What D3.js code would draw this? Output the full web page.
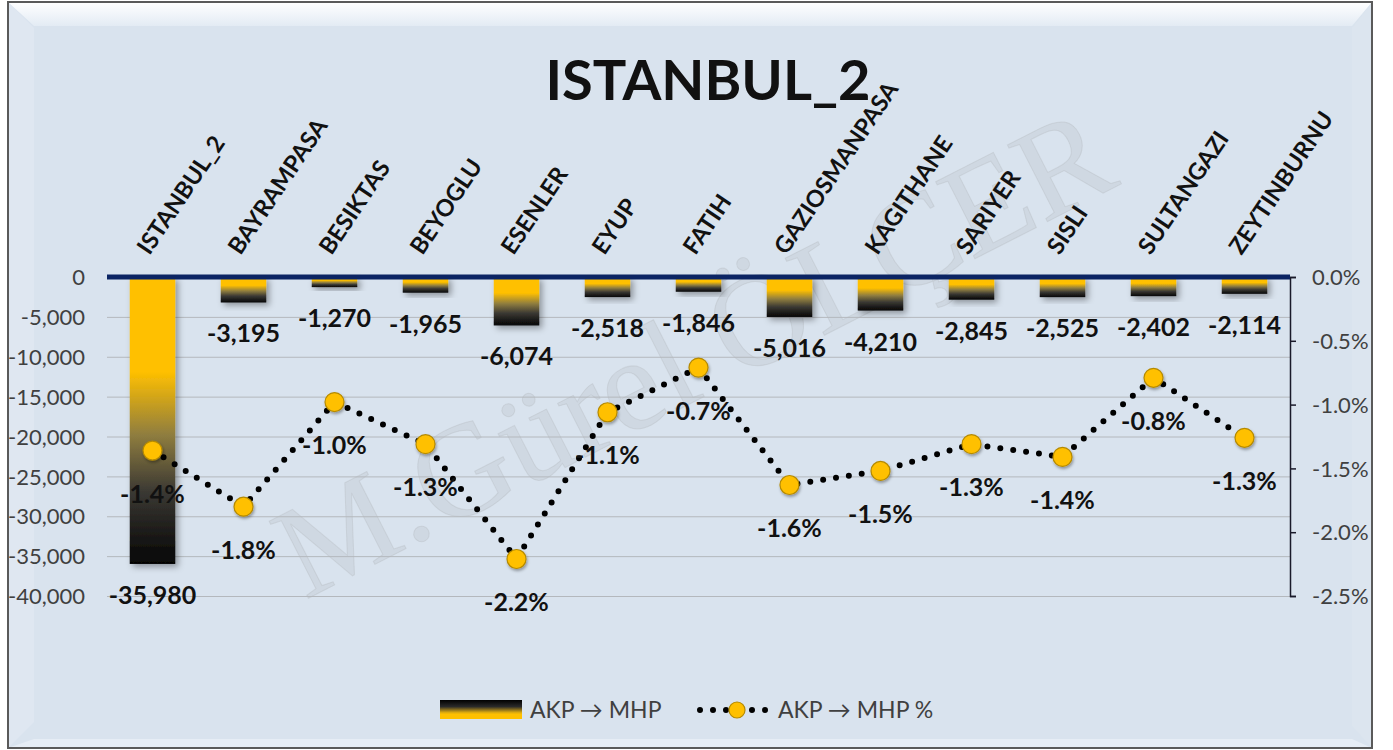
<!DOCTYPE html>
<html lang="tr">
<head>
<meta charset="UTF-8">
<title>ISTANBUL_2</title>
<script src="https://d3js.org/d3.v7.min.js"></script>
<style>
  body { margin: 0; padding: 0; background: #ffffff; }
  svg { display: block; font-family: Lato, "Open Sans", sans-serif; }
</style>
</head>
<body>
<svg id="chart" width="1393" height="750"></svg>
<script>
// chart data
const categories = ["ISTANBUL_2", "BAYRAMPASA", "BESIKTAS", "BEYOGLU", "ESENLER", "EYUP", "FATIH",
  "GAZIOSMANPASA", "KAGITHANE", "SARIYER", "SISLI", "SULTANGAZI", "ZEYTINBURNU"];
const votes = [-35980, -3195, -1270, -1965, -6074, -2518, -1846, -5016, -4210, -2845, -2525, -2402, -2114];
const pctValues = [-1.36, -1.80, -0.98, -1.31, -2.21, -1.06, -0.71, -1.63, -1.52, -1.31, -1.41, -0.79, -1.26];
const leftTicks = [0, -5000, -10000, -15000, -20000, -25000, -30000, -35000, -40000];
const rightTicks = [0, -0.5, -1.0, -1.5, -2.0, -2.5];
const seriesNames = ["AKP \u2192 MHP", "AKP \u2192 MHP %"];

const svg = d3.select("#chart");
const plot = { left: 107, right: 1290, top: 277, bottom: 596 };

const defs = svg.append("defs");

// bar gradient: yellow at the top, black at the bottom
const barGrad = defs.append("linearGradient").attr("id", "barGrad")
  .attr("x1", 0).attr("y1", 0).attr("x2", 0).attr("y2", 1);
[[0, "#ffc000"], [0.33, "#ffc000"], [0.55, "#8f7d3f"], [0.75, "#3a3833"], [1, "#050505"]]
  .forEach(s => barGrad.append("stop").attr("offset", s[0]).attr("stop-color", s[1]));

// legend swatch is the other way round
const legGrad = defs.append("linearGradient").attr("id", "legGrad")
  .attr("x1", 0).attr("y1", 0).attr("x2", 0).attr("y2", 1);
[[0, "#000000"], [0.35, "#2a2a2a"], [0.65, "#d9a810"], [0.75, "#ffc000"], [1, "#ffc000"]]
  .forEach(s => legGrad.append("stop").attr("offset", s[0]).attr("stop-color", s[1]));

const topBevel = defs.append("linearGradient").attr("id", "topBevel")
  .attr("x1", 0).attr("y1", 0).attr("x2", 0).attr("y2", 1);
topBevel.append("stop").attr("offset", 0).attr("stop-color", "#ffffff");
topBevel.append("stop").attr("offset", 1).attr("stop-color", "#e3ebf4");

const shadow = defs.append("filter").attr("id", "shadow")
  .attr("x", "-30%").attr("y", "-30%").attr("width", "160%").attr("height", "160%");
shadow.append("feDropShadow").attr("dx", 3).attr("dy", 3).attr("stdDeviation", 3)
  .attr("flood-color", "#000").attr("flood-opacity", 0.35);

const dotShadow = defs.append("filter").attr("id", "dotShadow")
  .attr("x", "-50%").attr("y", "-50%").attr("width", "200%").attr("height", "200%");
dotShadow.append("feDropShadow").attr("dx", 1).attr("dy", 2).attr("stdDeviation", 1.5)
  .attr("flood-color", "#000").attr("flood-opacity", 0.35);

// chart frame with a soft bevel
svg.append("rect").attr("x", 8).attr("y", 2).attr("width", 1364).attr("height", 746)
  .attr("fill", "#d9e3ee");
svg.append("path").attr("d", "M8,2 L34,28 L34,722 L8,748 Z").attr("fill", "#dfe7f1");
svg.append("path").attr("d", "M1372,2 L1352,28 L1352,726 L1372,748 Z").attr("fill", "#dce5ef");
svg.append("path").attr("d", "M8,748 L34,739 L1352,739 L1372,748 Z").attr("fill", "#e6edf5");
svg.append("path").attr("d", "M8,2 L1372,2 L1352,26 L34,26 Z").attr("fill", "url(#topBevel)");
svg.append("rect").attr("x", 8).attr("y", 2).attr("width", 1364).attr("height", 746)
  .attr("fill", "none").attr("stroke", "#5a5a5a").attr("stroke-width", 2);

// watermark
svg.append("text")
  .attr("transform", "translate(305,600) rotate(-27)")
  .attr("font-family", "'Liberation Serif', 'DejaVu Serif', serif")
  .attr("font-size", 132)
  .attr("fill", "#8c8c8c").attr("fill-opacity", 0.12)
  .attr("stroke", "#8c8c8c").attr("stroke-opacity", 0.16).attr("stroke-width", 1)
  .text("M.Gürel ÖLÇER");

// scales
const x = d3.scaleBand().domain(categories).range([plot.left, plot.right])
  .paddingInner(0.5).paddingOuter(0.25);
const yL = d3.scaleLinear().domain([0, -40000]).range([plot.top, plot.bottom]);
const yR = d3.scaleLinear().domain([0, -2.5]).range([plot.top, plot.bottom]);
const cx = c => x(c) + x.bandwidth() / 2;

const fmtNum = v => v === 0 ? "0" : (v < 0 ? "-" : "") + d3.format(",")(Math.abs(v));
const fmtPct = v => (Math.round(v * 10) / 10).toFixed(1) + "%";

// gridlines
svg.append("g").attr("transform", `translate(${plot.left},0)`)
  .call(d3.axisLeft(yL).tickValues(leftTicks.slice(1)).tickSize(-(plot.right - plot.left)).tickFormat(""))
  .call(g => g.select(".domain").remove())
  .call(g => g.selectAll("line").attr("stroke", "#b4b8bd").attr("stroke-width", 1));

// left axis labels
svg.append("g").attr("transform", `translate(${plot.left},0)`)
  .call(d3.axisLeft(yL).tickValues(leftTicks).tickSize(0).tickPadding(22).tickFormat(fmtNum))
  .call(g => g.select(".domain").remove())
  .call(g => g.selectAll("text").attr("font-family", "Lato, sans-serif")
    .attr("font-size", 22).attr("fill", "#404040").attr("dy", "0.35em"));

// right axis
svg.append("g").attr("transform", `translate(${plot.right},0)`)
  .call(d3.axisRight(yR).tickValues(rightTicks).tickSize(6).tickPadding(16).tickFormat(fmtPct))
  .call(g => g.select(".domain").attr("stroke", "#1a1a2a").attr("stroke-width", 1.5))
  .call(g => g.selectAll("line").attr("stroke", "#1a1a2a").attr("stroke-width", 1.5))
  .call(g => g.selectAll("text").attr("font-family", "Lato, sans-serif")
    .attr("font-size", 22).attr("fill", "#404040").attr("dy", "0.35em"));

// bars
svg.append("g").selectAll("rect").data(categories).join("rect")
  .attr("x", d => x(d))
  .attr("y", yL(0))
  .attr("width", x.bandwidth())
  .attr("height", (d, i) => yL(votes[i]) - yL(0))
  .attr("fill", "url(#barGrad)")
  .attr("filter", "url(#shadow)");

// zero line
svg.append("line")
  .attr("x1", plot.left).attr("x2", plot.right)
  .attr("y1", yL(0)).attr("y2", yL(0))
  .attr("stroke", "#0b2463").attr("stroke-width", 5);

// bar value labels
svg.append("g").selectAll("text").data(categories).join("text")
  .attr("x", d => cx(d))
  .attr("y", (d, i) => yL(votes[i]) + 40)
  .attr("text-anchor", "middle")
  .attr("font-size", 25).attr("font-weight", 700).attr("fill", "#111")
  .text((d, i) => fmtNum(votes[i]));

// dotted percentage line
const line = d3.line().x((d, i) => cx(categories[i])).y(d => yR(d));
svg.append("path").datum(pctValues)
  .attr("d", line)
  .attr("fill", "none")
  .attr("stroke", "#000")
  .attr("stroke-width", 6)
  .attr("stroke-linecap", "round")
  .attr("stroke-dasharray", "0 13");

svg.append("g").selectAll("circle").data(pctValues).join("circle")
  .attr("cx", (d, i) => cx(categories[i]))
  .attr("cy", d => yR(d))
  .attr("r", 9.5)
  .attr("fill", "#ffc000")
  .attr("stroke", "#b58a00").attr("stroke-width", 1.2)
  .attr("filter", "url(#dotShadow)");

// percentage labels
svg.append("g").selectAll("text").data(pctValues).join("text")
  .attr("x", (d, i) => cx(categories[i]))
  .attr("y", d => yR(d) + 52)
  .attr("text-anchor", "middle")
  .attr("font-size", 25).attr("font-weight", 700).attr("fill", "#111")
  .text(d => fmtPct(d));

// category labels
svg.append("g").selectAll("text").data(categories).join("text")
  .attr("transform", d => `translate(${cx(d) - 3},${plot.top - 21}) rotate(-56)`)
  .attr("font-size", 23.5).attr("font-weight", 700).attr("fill", "#111")
  .text(d => d);

// title
svg.append("text")
  .attr("x", 708).attr("y", 100)
  .attr("text-anchor", "middle")
  .attr("font-size", 56).attr("font-weight", 700).attr("fill", "#111")
  .text("ISTANBUL_2");

// legend
const leg = svg.append("g").attr("font-size", 23).attr("fill", "#404040");
leg.append("rect").attr("x", 440).attr("y", 700).attr("width", 82).attr("height", 19)
  .attr("fill", "url(#legGrad)");
leg.append("text").attr("x", 530).attr("y", 718).text(seriesNames[0]);
leg.append("line").attr("x1", 700).attr("x2", 770).attr("y1", 710).attr("y2", 710)
  .attr("stroke", "#000").attr("stroke-width", 6).attr("stroke-linecap", "round")
  .attr("stroke-dasharray", "0 13");
leg.append("circle").attr("cx", 737).attr("cy", 710).attr("r", 8)
  .attr("fill", "#ffc000").attr("stroke", "#b58a00").attr("stroke-width", 1.2);
leg.append("text").attr("x", 778).attr("y", 718).text(seriesNames[1]);
</script>
</body>
</html>
